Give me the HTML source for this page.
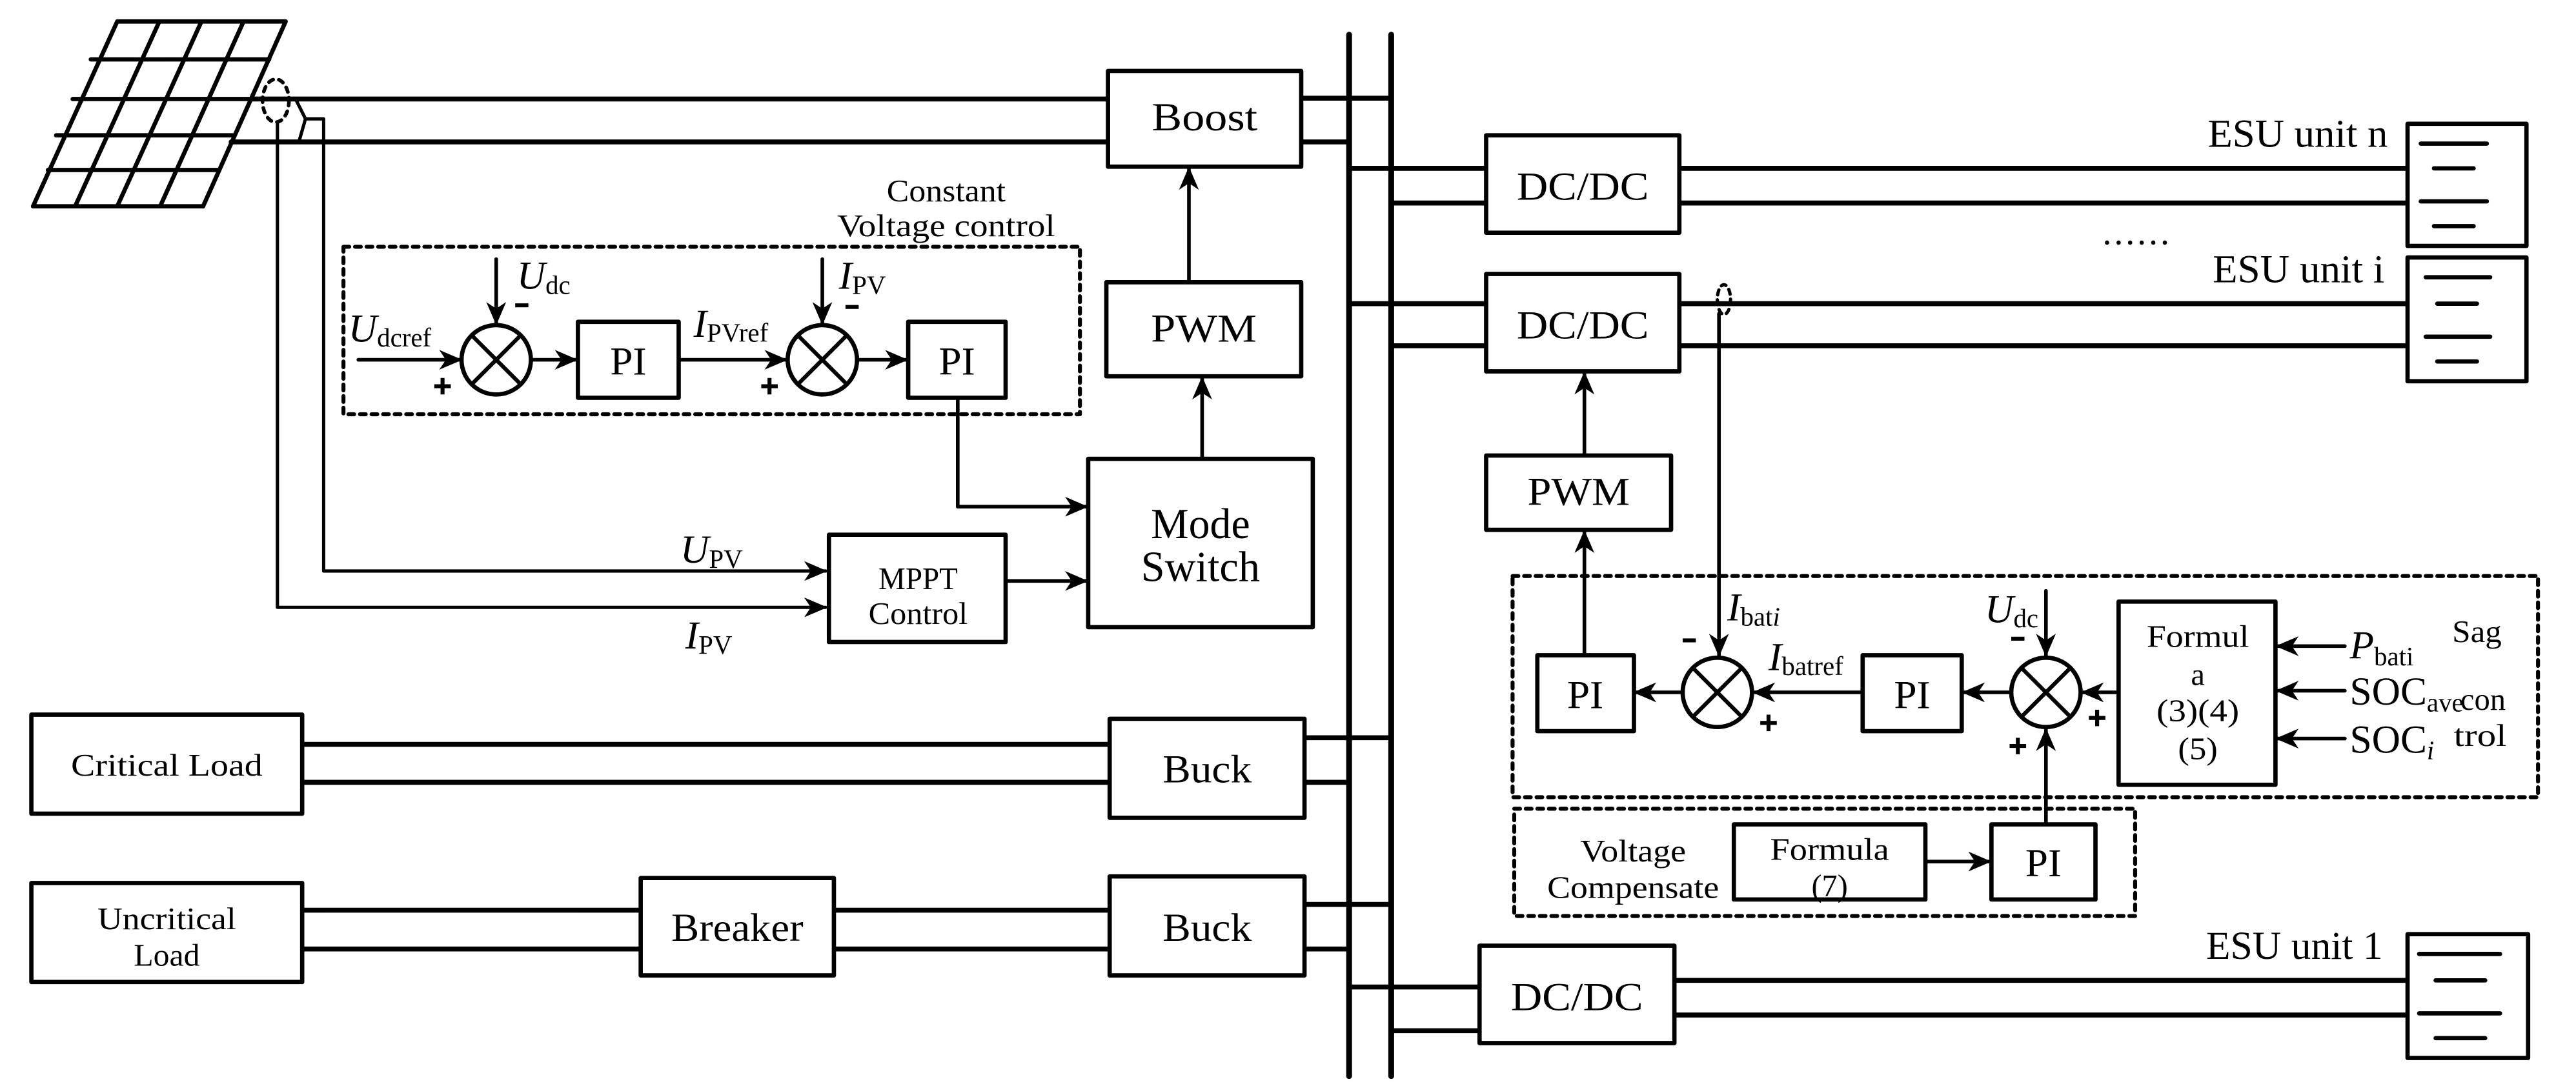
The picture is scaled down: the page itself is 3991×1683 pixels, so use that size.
<!DOCTYPE html>
<html><head><meta charset="utf-8"><style>
html,body{margin:0;padding:0;background:#fff;}
svg{display:block;}
svg text{font-family:'Liberation Serif','Times New Roman',Times,serif;fill:#000;}
</style></head><body>
<svg width="3991" height="1683" viewBox="0 0 1560 658" preserveAspectRatio="none" xmlns="http://www.w3.org/2000/svg" font-family="'Liberation Serif', 'Times New Roman', Times, serif">
<defs>
<marker id="a" viewBox="0 0 14 14" refX="13" refY="7" markerWidth="14" markerHeight="14" markerUnits="userSpaceOnUse" orient="auto">
<path d="M0,1 L14,7 L0,13 L4,7 Z" fill="#000"/>
</marker>
</defs>
<g fill="none" stroke="#000" stroke-linecap="round" stroke-linejoin="round">
<g stroke-width="2.6">
<polygon points="71,13 173,13 123,125 20,125"/>
<line x1="55" y1="36" x2="163" y2="36"/>
<line x1="44" y1="60" x2="152" y2="60"/>
<line x1="34" y1="82" x2="142" y2="82"/>
<line x1="29" y1="103" x2="132" y2="103"/>
<line x1="96.5" y1="13" x2="45.5" y2="125"/>
<line x1="122" y1="13" x2="71" y2="125"/>
<line x1="147.5" y1="13" x2="97" y2="125"/>
</g>
<g stroke-width="3">
<line x1="152" y1="60" x2="672" y2="60"/>
<line x1="140" y1="86" x2="672" y2="86"/>
</g>
<ellipse cx="167" cy="61" rx="8" ry="13" stroke-width="2.2" stroke-dasharray="3,3.5"/>
<g stroke-width="2">
<polyline points="168,74 168,368 500,368" marker-end="url(#a)"/>
<polyline points="179.5,61 185,72 181,86"/>
<polyline points="185,72 196,72 196,346 500,346" marker-end="url(#a)"/>
</g>
<line x1="817" y1="21" x2="817" y2="652" stroke-width="3.5"/>
<line x1="842.5" y1="21" x2="842.5" y2="652" stroke-width="3.5"/>
<g stroke-width="3">
<line x1="788" y1="59.5" x2="842.5" y2="59.5"/>
<line x1="788" y1="86" x2="817" y2="86"/>
<line x1="817" y1="102" x2="900" y2="102"/>
<line x1="842.5" y1="123" x2="900" y2="123"/>
<line x1="1017" y1="102" x2="1458" y2="102"/>
<line x1="1017" y1="123" x2="1458" y2="123"/>
<line x1="817" y1="184" x2="900" y2="184"/>
<line x1="842.5" y1="209.5" x2="900" y2="209.5"/>
<line x1="1017" y1="184" x2="1458" y2="184"/>
<line x1="1017" y1="209.5" x2="1458" y2="209.5"/>
<line x1="817" y1="598" x2="896" y2="598"/>
<line x1="842.5" y1="624.5" x2="896" y2="624.5"/>
<line x1="1014" y1="594" x2="1458" y2="594"/>
<line x1="1014" y1="615" x2="1458" y2="615"/>
<line x1="183" y1="451" x2="672" y2="451"/>
<line x1="183" y1="474" x2="672" y2="474"/>
<line x1="790" y1="447" x2="842.5" y2="447"/>
<line x1="790" y1="474" x2="817" y2="474"/>
<line x1="183" y1="551.5" x2="388" y2="551.5"/>
<line x1="183" y1="575" x2="388" y2="575"/>
<line x1="505" y1="551.5" x2="672" y2="551.5"/>
<line x1="505" y1="575" x2="672" y2="575"/>
<line x1="790" y1="548" x2="842.5" y2="548"/>
<line x1="790" y1="575" x2="817" y2="575"/>
</g>
<g stroke-width="2.6" fill="#fff">
<rect x="671" y="43" width="117" height="58"/>
<rect x="670" y="171" width="118" height="57"/>
<rect x="659" y="278" width="136" height="102"/>
<rect x="502" y="324" width="107" height="65"/>
<rect x="350" y="195" width="61" height="46"/>
<rect x="550" y="195" width="59" height="46"/>
<rect x="19" y="433" width="164" height="60"/>
<rect x="672" y="435.5" width="118" height="60"/>
<rect x="19" y="535" width="164" height="60"/>
<rect x="388" y="532" width="117" height="59"/>
<rect x="672" y="531" width="118" height="60"/>
<rect x="900" y="82" width="117" height="59"/>
<rect x="900" y="166" width="117" height="59"/>
<rect x="900" y="276" width="112" height="45"/>
<rect x="896" y="573" width="118" height="59"/>
<rect x="1458" y="75" width="72" height="74"/>
<rect x="1458" y="156" width="72" height="75"/>
<rect x="1458" y="566" width="73" height="75"/>
<rect x="931" y="397" width="58.5" height="46"/>
<rect x="1128" y="397" width="60" height="46"/>
<rect x="1283" y="364.5" width="95" height="111"/>
<rect x="1050" y="499.5" width="116" height="45.5"/>
<rect x="1206" y="499.5" width="63" height="45.5"/>
</g>
<g stroke-width="2.6">
<line x1="1466" y1="87" x2="1506" y2="87"/><line x1="1474" y1="102" x2="1498" y2="102"/>
<line x1="1466" y1="122" x2="1506" y2="122"/><line x1="1474" y1="137" x2="1498" y2="137"/>
<line x1="1469" y1="168" x2="1508" y2="168"/><line x1="1476" y1="184" x2="1500" y2="184"/>
<line x1="1469" y1="204" x2="1508" y2="204"/><line x1="1476" y1="219" x2="1500" y2="219"/>
<line x1="1465" y1="578" x2="1514" y2="578"/><line x1="1475" y1="594" x2="1505" y2="594"/>
<line x1="1465" y1="614" x2="1514" y2="614"/><line x1="1475" y1="629" x2="1505" y2="629"/>
</g>
<g stroke-width="2.4" stroke-dasharray="3.5,3.5">
<rect x="208" y="149.5" width="446" height="101.5"/>
<rect x="916" y="349" width="621" height="134"/>
<rect x="917" y="490" width="376" height="65"/>
</g>
<ellipse cx="1044" cy="181.5" rx="4" ry="9" stroke-width="2" stroke-dasharray="3,3"/>
<g stroke-width="2.6" fill="#fff">
<circle cx="300.5" cy="218" r="21"/>
<circle cx="498" cy="218" r="21"/>
<circle cx="1040" cy="419.5" r="21"/>
<circle cx="1239" cy="419.5" r="21"/>
</g>
<g stroke-width="2.4">
<path d="M285.7,203.2 L315.3,232.8 M315.3,203.2 L285.7,232.8"/>
<path d="M483.2,203.2 L512.8,232.8 M512.8,203.2 L483.2,232.8"/>
<path d="M1025.2,404.7 L1054.8,434.3 M1054.8,404.7 L1025.2,434.3"/>
<path d="M1224.2,404.7 L1253.8,434.3 M1253.8,404.7 L1224.2,434.3"/>
</g>
<g stroke-width="2.2">
<line x1="217" y1="218" x2="279" y2="218" marker-end="url(#a)"/>
<line x1="300.5" y1="157" x2="300.5" y2="196" marker-end="url(#a)"/>
<line x1="322" y1="218" x2="349" y2="218" marker-end="url(#a)"/>
<line x1="411" y1="218" x2="476" y2="218" marker-end="url(#a)"/>
<line x1="498" y1="157" x2="498" y2="196" marker-end="url(#a)"/>
<line x1="519" y1="218" x2="549" y2="218" marker-end="url(#a)"/>
<polyline points="580,241 580,307 658,307" marker-end="url(#a)"/>
<line x1="609" y1="352" x2="658" y2="352" marker-end="url(#a)"/>
<line x1="728" y1="278" x2="728" y2="229" marker-end="url(#a)"/>
<line x1="720" y1="171" x2="720" y2="102" marker-end="url(#a)"/>
<line x1="959.5" y1="276" x2="959.5" y2="226" marker-end="url(#a)"/>
<line x1="959.5" y1="397" x2="959.5" y2="322" marker-end="url(#a)"/>
<line x1="1041" y1="190" x2="1041" y2="397" marker-end="url(#a)"/>
<line x1="1019" y1="419.5" x2="990" y2="419.5" marker-end="url(#a)"/>
<line x1="1128" y1="419.5" x2="1062" y2="419.5" marker-end="url(#a)"/>
<line x1="1218" y1="419.5" x2="1189" y2="419.5" marker-end="url(#a)"/>
<line x1="1283" y1="419.5" x2="1261" y2="419.5" marker-end="url(#a)"/>
<line x1="1239" y1="358" x2="1239" y2="397" marker-end="url(#a)"/>
<line x1="1239" y1="499.5" x2="1239" y2="442" marker-end="url(#a)"/>
<line x1="1166" y1="522" x2="1205" y2="522" marker-end="url(#a)"/>
<line x1="1420" y1="391.5" x2="1379" y2="391.5" marker-end="url(#a)"/>
<line x1="1420" y1="418.5" x2="1379" y2="418.5" marker-end="url(#a)"/>
<line x1="1420" y1="447.5" x2="1379" y2="447.5" marker-end="url(#a)"/>
</g>
<g stroke-width="2.4" stroke-linecap="butt">
<path d="M263,234 h10 M268,229 v10"/>
<path d="M461,234 h10 M466,229 v10"/>
<path d="M312,185 h8"/>
<path d="M512,186 h8"/>
<path d="M1019,388 h8"/>
<path d="M1066,438 h10 M1071,433 v10"/>
<path d="M1218,387 h8"/>
<path d="M1265,435 h10 M1270,430 v10"/>
<path d="M1217,452 h10 M1222,447 v10"/>
</g>
</g>
<g stroke="none" fill="#000">
<circle cx="1276" cy="147" r="1.3"/><circle cx="1283" cy="147" r="1.3"/><circle cx="1290" cy="147" r="1.3"/>
<circle cx="1297" cy="147" r="1.3"/><circle cx="1304" cy="147" r="1.3"/><circle cx="1311" cy="147" r="1.3"/>
</g>
<g font-size="24" text-anchor="middle" lengthAdjust="spacingAndGlyphs">
<text x="729.5" y="79" textLength="64" lengthAdjust="spacingAndGlyphs">Boost</text>
<text x="729" y="207" textLength="64" lengthAdjust="spacingAndGlyphs">PWM</text>
<text x="727" y="326" font-size="26" textLength="60" lengthAdjust="spacingAndGlyphs">Mode</text>
<text x="727" y="352" font-size="26" textLength="72" lengthAdjust="spacingAndGlyphs">Switch</text>
<text x="380.5" y="227" textLength="22" lengthAdjust="spacingAndGlyphs">PI</text>
<text x="579.5" y="227" textLength="22" lengthAdjust="spacingAndGlyphs">PI</text>
<text x="960" y="429" textLength="22" lengthAdjust="spacingAndGlyphs">PI</text>
<text x="1158" y="429" textLength="22" lengthAdjust="spacingAndGlyphs">PI</text>
<text x="1237.5" y="531" textLength="22" lengthAdjust="spacingAndGlyphs">PI</text>
<text x="731" y="474" textLength="54" lengthAdjust="spacingAndGlyphs">Buck</text>
<text x="731" y="570" textLength="54" lengthAdjust="spacingAndGlyphs">Buck</text>
<text x="446.5" y="570" textLength="80" lengthAdjust="spacingAndGlyphs">Breaker</text>
<text x="958.5" y="121" textLength="80" lengthAdjust="spacingAndGlyphs">DC/DC</text>
<text x="958.5" y="205" textLength="80" lengthAdjust="spacingAndGlyphs">DC/DC</text>
<text x="956" y="306" textLength="62" lengthAdjust="spacingAndGlyphs">PWM</text>
<text x="955" y="612" textLength="80" lengthAdjust="spacingAndGlyphs">DC/DC</text>
</g>
<g font-size="24" text-anchor="end">
<text x="1446" y="89" textLength="109" lengthAdjust="spacingAndGlyphs">ESU unit n</text>
<text x="1444" y="171" textLength="104" lengthAdjust="spacingAndGlyphs">ESU unit i</text>
<text x="1443" y="581" textLength="107" lengthAdjust="spacingAndGlyphs">ESU unit 1</text>
</g>
<g font-size="19" text-anchor="middle">
<text x="556" y="357" textLength="48" lengthAdjust="spacingAndGlyphs">MPPT</text>
<text x="556" y="378" textLength="60" lengthAdjust="spacingAndGlyphs">Control</text>
<text x="101" y="470" textLength="116" lengthAdjust="spacingAndGlyphs">Critical Load</text>
<text x="101" y="563" textLength="84" lengthAdjust="spacingAndGlyphs">Uncritical</text>
<text x="101" y="585" textLength="40" lengthAdjust="spacingAndGlyphs">Load</text>
<text x="573" y="122" textLength="72" lengthAdjust="spacingAndGlyphs">Constant</text>
<text x="573" y="143" textLength="132" lengthAdjust="spacingAndGlyphs">Voltage control</text>
<text x="989" y="522" textLength="64" lengthAdjust="spacingAndGlyphs">Voltage</text>
<text x="989" y="544" textLength="104" lengthAdjust="spacingAndGlyphs">Compensate</text>
<text x="1108" y="521" textLength="72" lengthAdjust="spacingAndGlyphs">Formula</text>
<text x="1108" y="543" textLength="22" lengthAdjust="spacingAndGlyphs">(7)</text>
<text x="1331" y="392" textLength="62" lengthAdjust="spacingAndGlyphs">Formul</text>
<text x="1331" y="415">a</text>
<text x="1331" y="437" textLength="50" lengthAdjust="spacingAndGlyphs">(3)(4)</text>
<text x="1331" y="460" textLength="24" lengthAdjust="spacingAndGlyphs">(5)</text>
<text x="1500" y="389" textLength="30" lengthAdjust="spacingAndGlyphs">Sag</text>
<text x="1502" y="452" textLength="32" lengthAdjust="spacingAndGlyphs">trol</text>
</g>
<g font-size="24">
<text x="211" y="207"><tspan font-style="italic">U</tspan><tspan font-size="16" dy="3">dcref</tspan></text>
<text x="313" y="175"><tspan font-style="italic">U</tspan><tspan font-size="16" dy="3">dc</tspan></text>
<text x="420" y="204"><tspan font-style="italic">I</tspan><tspan font-size="16" dy="3">PVref</tspan></text>
<text x="508" y="175"><tspan font-style="italic">I</tspan><tspan font-size="16" dy="3">PV</tspan></text>
<text x="412" y="341"><tspan font-style="italic">U</tspan><tspan font-size="16" dy="3">PV</tspan></text>
<text x="415" y="393"><tspan font-style="italic">I</tspan><tspan font-size="16" dy="3">PV</tspan></text>
<text x="1046" y="376"><tspan font-style="italic">I</tspan><tspan font-size="16" dy="3">bat</tspan><tspan font-size="16" font-style="italic">i</tspan></text>
<text x="1071" y="406"><tspan font-style="italic">I</tspan><tspan font-size="16" dy="3">batref</tspan></text>
<text x="1202" y="377"><tspan font-style="italic">U</tspan><tspan font-size="16" dy="3">dc</tspan></text>
<text x="1423" y="399"><tspan font-style="italic">P</tspan><tspan font-size="16" dy="4">bati</tspan></text>
<text x="1423" y="427">SOC<tspan font-size="16" dy="4">ave</tspan></text>
<text x="1423" y="456">SOC<tspan font-size="16" dy="4" font-style="italic">i</tspan></text>
<text x="1490" y="430" font-size="19">con</text>
</g>
</svg>
</body></html>
